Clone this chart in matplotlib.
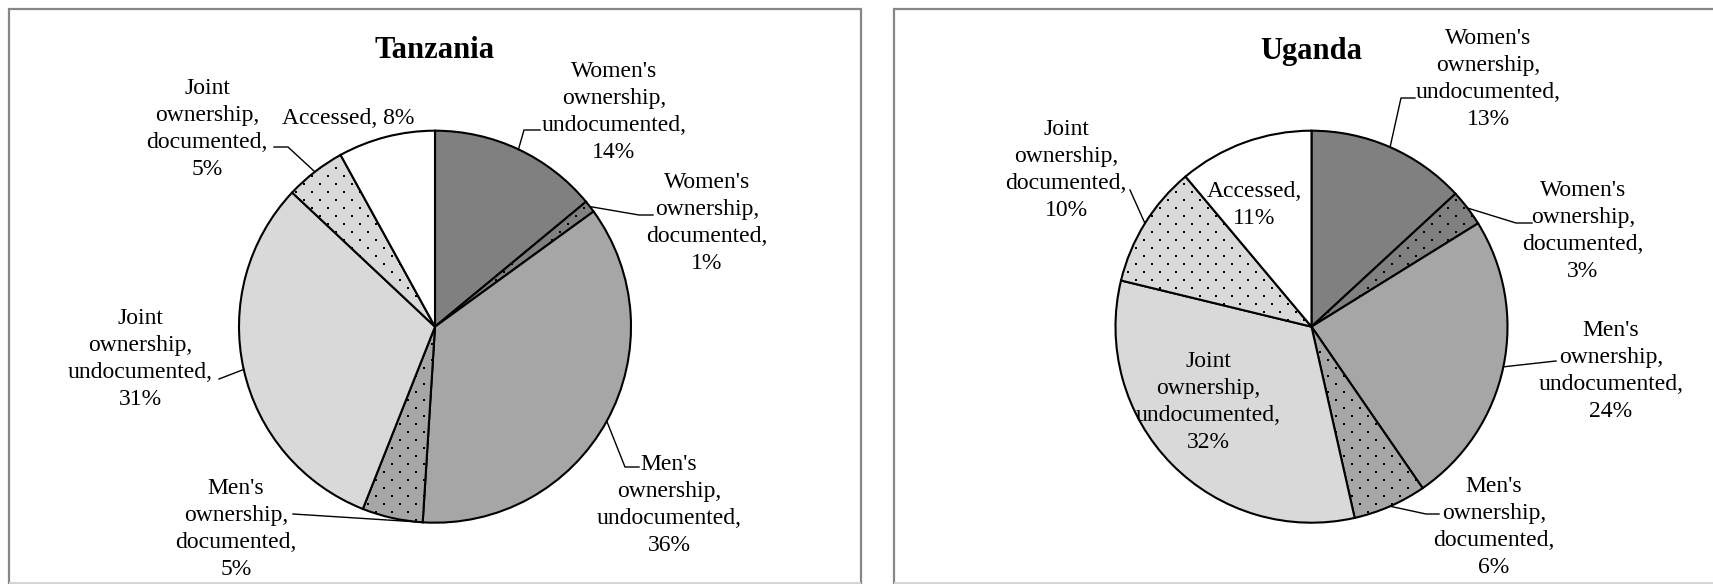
import numpy as np
import matplotlib.pyplot as plt
from matplotlib.patches import Rectangle

plt.rcParams['font.family'] = ['Liberation Serif', 'DejaVu Serif']

# --- Data ---
categories = ["Women's\nownership,\nundocumented,", "Women's\nownership,\ndocumented,",
              "Men's\nownership,\nundocumented,", "Men's\nownership,\ndocumented,",
              "Joint\nownership,\nundocumented,", "Joint\nownership,\ndocumented,",
              "Accessed,"]
tanzania = [14, 1, 36, 5, 31, 5, 8]
uganda = [13, 3, 24, 6, 32, 10, 11]

colors = ["#808080", "#808080", "#a6a6a6", "#a6a6a6", "#d9d9d9", "#d9d9d9", "#ffffff"]
dotted = [False, True, False, True, False, True, False]

W, H = 1713, 584   # canvas in pixels, y measured from the top below

# label layout: (text centre x, text centre y, elbow points of leader, anchor fraction)
tz_layout = [
    (614, 112, [(540, 130), (524, 130)], 0.5),
    (707, 223, [(653, 215), (639, 215)], 0.5),
    (669, 505, [(639, 467), (625, 467)], 0.5),
    (236, 529, [(293, 514)], 0.08),
    (140, 359, [(219, 379)], 0.5),
    (207, 129, [(274, 147), (288, 147)], 0.5),
    (348, 118, None, 0.5),
]
ug_layout = [
    (1488, 79, [(1415, 98), (1401, 98)], 0.5),
    (1583, 231, [(1532, 223), (1516, 223)], 0.5),
    (1611, 371, [(1556, 361)], 0.5),
    (1494, 527, [(1439, 514), (1426, 514)], 0.5),
    (1208, 402, None, 0.5),
    (1066, 170, [(1130, 190)], 0.5),
    (1254, 205, None, 0.5),
]

# staggered dot texture for the "documented" slices (8 px rows, 16 px columns)
gy, gx = np.mgrid[0:H:8, 0:W:16]
gx = gx + (np.arange(gy.shape[0])[:, None] % 2) * 8
dot_x, dot_y = gx.ravel(), gy.ravel()


def py(y):
    return H - y


def draw_panel(ax, title, values, cx, cy, r, layout, one_line_accessed):
    wedges, _ = ax.pie(values, colors=colors, startangle=90, counterclock=False,
                       center=(cx, py(cy)), radius=r,
                       wedgeprops=dict(edgecolor="black", linewidth=1.5))
    for w, d in zip(wedges, dotted):
        if d:
            pts = ax.scatter(dot_x, dot_y, s=2.0, marker="s", color="black",
                             linewidths=0, zorder=w.get_zorder() + 0.05)
            pts.set_clip_path(w)

    ax.text(cx, py(51), title, ha="center", va="center",
            fontsize=22, fontweight="bold")

    for i, (w, (tx, ty, elbow, frac)) in enumerate(zip(wedges, layout)):
        name = categories[i]
        if i == len(categories) - 1 and one_line_accessed:
            label = f"{name} {values[i]}%"
        else:
            label = f"{name}\n{values[i]}%"
        ax.text(tx, py(ty), label, ha="center", va="center",
                fontsize=17, linespacing=1.38)
        if elbow:
            # leader ends on the rim of its slice
            ang = np.deg2rad(w.theta2 - frac * (w.theta2 - w.theta1))
            end = (cx + r * np.cos(ang), py(cy) + r * np.sin(ang))
            xs = [p[0] for p in elbow] + [end[0]]
            ys = [py(p[1]) for p in elbow] + [end[1]]
            ax.plot(xs, ys, color="black", linewidth=1.0)


fig = plt.figure(figsize=(W / 100, H / 100), dpi=100)
ax = fig.add_axes([0, 0, 1, 1])

draw_panel(ax, "Tanzania", tanzania, 435, 326.7, 196, tz_layout, True)
draw_panel(ax, "Uganda", uganda, 1311.5, 326.7, 196, ug_layout, False)

# chart-area frames
for x0, x1 in [(8.5, 861), (893.5, W + 10)]:
    ax.add_patch(Rectangle((x0, -10), x1 - x0, py(8.5) + 10, fill=False,
                           edgecolor="#878787", linewidth=1.6))
    ax.plot([x0 + 1, x1 - 1], [0.8, 0.8], color="#d4d4d4", linewidth=1.4)

ax.set_xlim(0, W)
ax.set_ylim(0, H)
ax.set_aspect("equal")
ax.axis("off")

plt.savefig("out.png", dpi=100)
